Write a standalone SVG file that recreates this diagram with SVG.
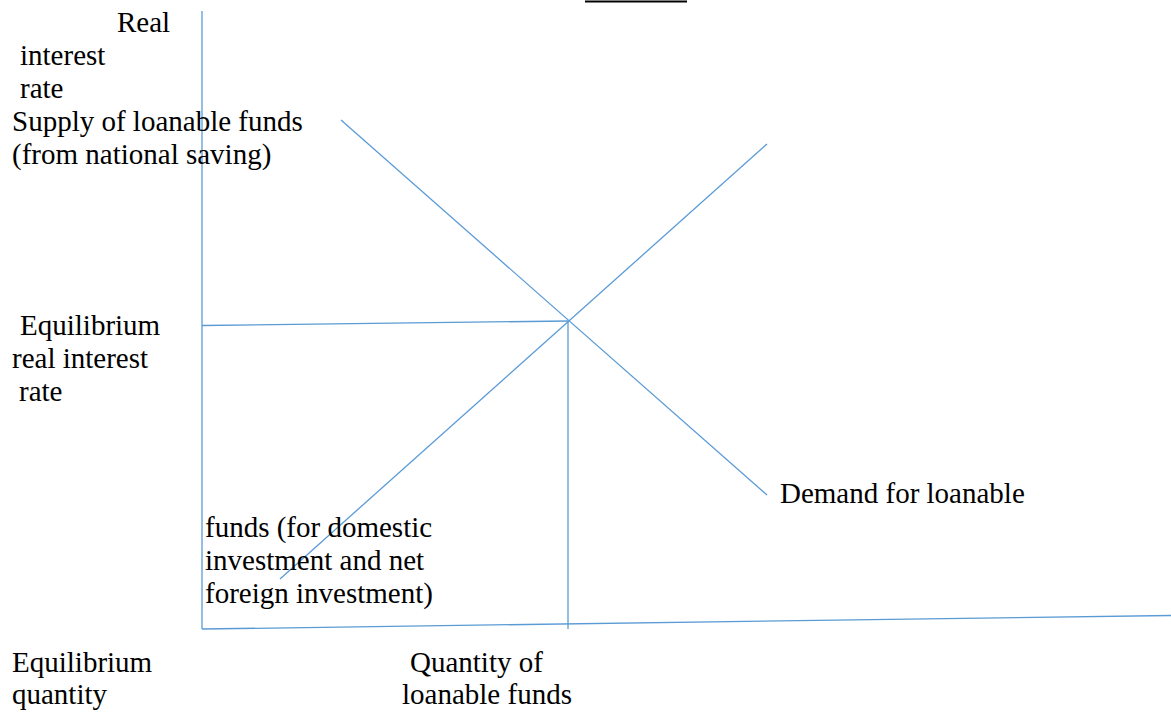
<svg xmlns="http://www.w3.org/2000/svg" width="1171" height="713" viewBox="0 0 1171 713">
<style>
.ln{stroke:#5B9BD5;stroke-width:1.3;fill:none}
text{font-family:"Liberation Serif","Times New Roman",serif;font-size:29px;fill:#000}
</style>
<rect width="1171" height="713" fill="#fff"/>
<line x1="585" y1="1.5" x2="687" y2="1.5" stroke="#000" stroke-width="2"/>
<g id="connectors">
<line class="ln" x1="202" y1="11" x2="202" y2="629"/>
<line class="ln" x1="202" y1="629" x2="1171" y2="615.5"/>
<line class="ln" x1="202" y1="325.5" x2="568" y2="321"/>
<line class="ln" x1="568" y1="321" x2="568" y2="629"/>
<line class="ln" x1="341" y1="120" x2="767" y2="495"/>
<line class="ln" x1="280" y1="579" x2="767" y2="144"/>
</g>
<g id="y-axis-label">
<text x="117" y="32">Real</text>
<text x="20" y="65">interest</text>
<text x="20" y="98">rate</text>
</g>
<g id="supply-label">
<text x="12" y="131">Supply of loanable funds</text>
<text x="12" y="164">(from national saving)</text>
</g>
<g id="eq-rate-label">
<text x="20" y="335">Equilibrium</text>
<text x="12" y="368">real interest</text>
<text x="19" y="401">rate</text>
</g>
<g id="demand-label">
<text x="780" y="503">Demand for loanable</text>
<text x="205" y="537">funds (for domestic</text>
<text x="205" y="570">investment and net</text>
<text x="205" y="603">foreign investment)</text>
</g>
<g id="eq-qty-label">
<text x="12" y="672">Equilibrium</text>
<text x="12" y="704">quantity</text>
</g>
<g id="x-axis-label">
<text x="410" y="672">Quantity of</text>
<text x="402" y="704">loanable funds</text>
</g>
</svg>
